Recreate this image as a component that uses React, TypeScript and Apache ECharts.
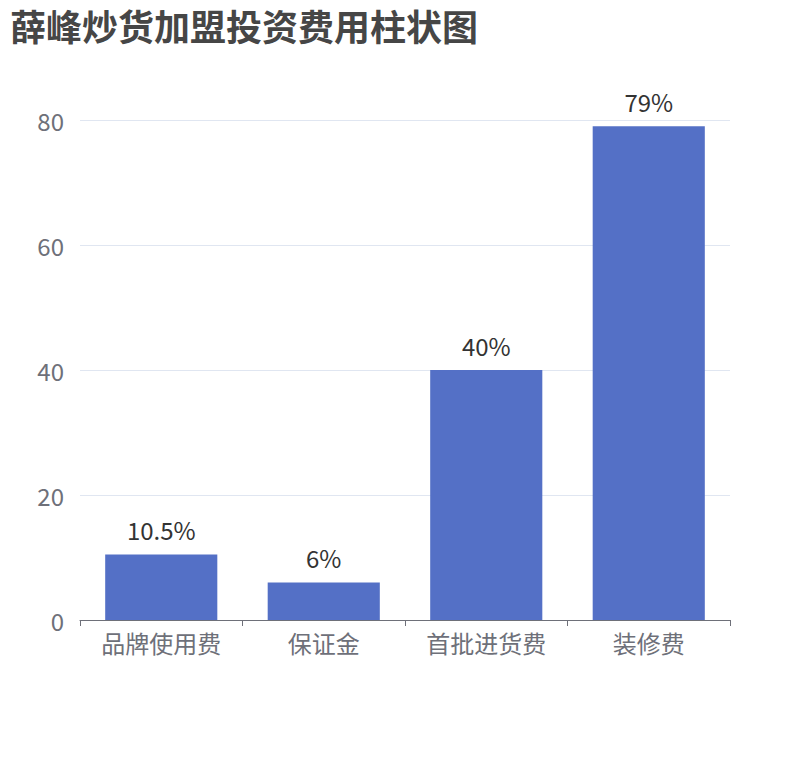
import { useEffect, useRef } from 'react';
import * as echarts from 'echarts';

const categories = ['品牌使用费', '保证金', '首批进货费', '装修费'];
const values = [10.5, 6, 40, 79];

const FONT = '"Noto Sans CJK SC", "Noto Sans", sans-serif';

export default function App() {
  const chartRef = useRef<HTMLDivElement>(null);

  useEffect(() => {
    if (!chartRef.current) return;
    const chart = echarts.init(chartRef.current, undefined, { renderer: 'svg' });

    chart.setOption({
      animation: false,
      textStyle: { fontFamily: FONT },
      title: {
        text: '薛峰炒货加盟投资费用柱状图',
        left: 5,
        top: 2,
        textStyle: { color: '#464646', fontSize: 36, fontWeight: 'bold', fontFamily: FONT },
      },
      grid: { left: 80, right: 80, top: 120, bottom: 140 },
      xAxis: {
        type: 'category',
        data: categories,
        axisLine: { lineStyle: { color: '#6E7079' } },
        axisTick: { show: true, length: 6, lineStyle: { color: '#6E7079' } },
        axisLabel: { color: '#6E7079', fontSize: 24, margin: 10, fontFamily: FONT },
      },
      yAxis: {
        type: 'value',
        min: 0,
        max: 80,
        interval: 20,
        axisLabel: { color: '#6E7079', fontSize: 24, margin: 16, fontFamily: FONT },
        splitLine: { lineStyle: { color: '#E0E6F1' } },
      },
      series: [
        {
          type: 'bar',
          data: values,
          barWidth: '69%',
          itemStyle: { color: '#5470c6' },
          label: {
            show: true,
            position: 'top',
            distance: 13,
            formatter: '{c}%',
            color: '#333',
            fontSize: 24,
            fontFamily: FONT,
          },
        },
      ],
    });

    return () => {
      chart.dispose();
    };
  }, []);

  return (
    <div
      ref={chartRef}
      style={{ position: 'absolute', left: 0, top: 0, width: 810, height: 760 }}
    />
  );
}
